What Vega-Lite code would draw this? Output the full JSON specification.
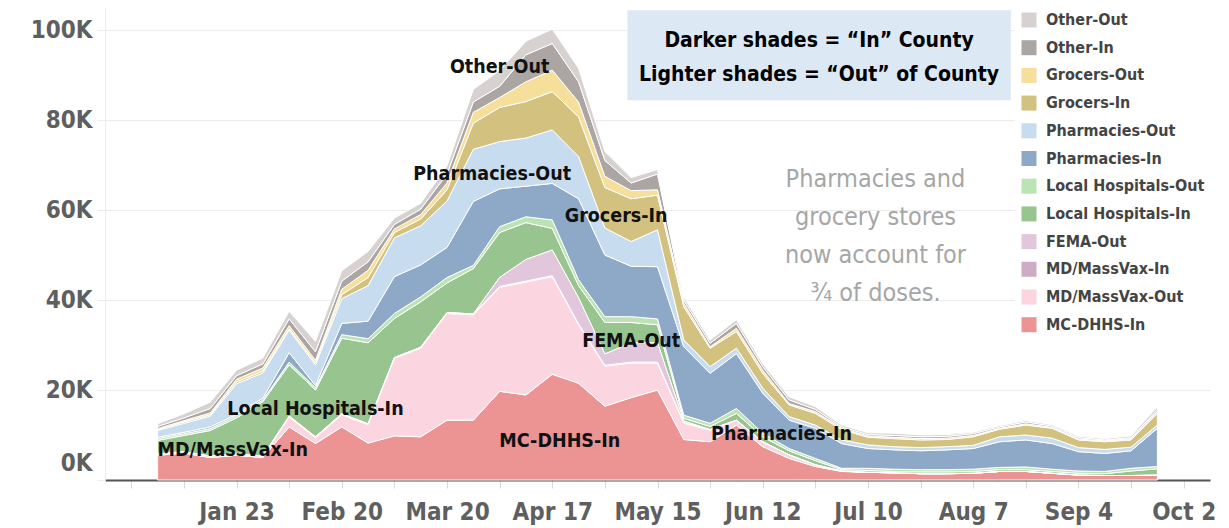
{
  "$schema": "https://vega.github.io/schema/vega-lite/v6.json",
  "width": 1105,
  "height": 472,
  "autosize": {"type": "none"},
  "padding": {"left": 105, "top": 8, "right": 19, "bottom": 48},
  "background": "white",
  "config": {"view": {"stroke": null}, "font": "DejaVu Sans Condensed"},
  "layer": [
    {
      "data": {"values": [
        {"week":"2021-01-02","MC-DHHS-In":5500,"MD/MassVax-Out":0,"MD/MassVax-In":300,"FEMA-Out":null,"Local Hospitals-In":3000,"Local Hospitals-Out":400,"Pharmacies-In":300,"Pharmacies-Out":1500,"Grocers-In":200,"Grocers-Out":200,"Other-In":500,"Other-Out":600},
        {"week":"2021-01-09","MC-DHHS-In":6000,"MD/MassVax-Out":0,"MD/MassVax-In":300,"FEMA-Out":null,"Local Hospitals-In":3600,"Local Hospitals-Out":400,"Pharmacies-In":300,"Pharmacies-Out":2000,"Grocers-In":300,"Grocers-Out":300,"Other-In":600,"Other-Out":900},
        {"week":"2021-01-16","MC-DHHS-In":5000,"MD/MassVax-Out":0,"MD/MassVax-In":300,"FEMA-Out":null,"Local Hospitals-In":5700,"Local Hospitals-Out":400,"Pharmacies-In":400,"Pharmacies-Out":2400,"Grocers-In":300,"Grocers-Out":400,"Other-In":1000,"Other-Out":1400},
        {"week":"2021-01-23","MC-DHHS-In":5500,"MD/MassVax-Out":0,"MD/MassVax-In":300,"FEMA-Out":null,"Local Hospitals-In":8000,"Local Hospitals-Out":500,"Pharmacies-In":300,"Pharmacies-Out":6800,"Grocers-In":400,"Grocers-Out":600,"Other-In":800,"Other-Out":1200},
        {"week":"2021-01-30","MC-DHHS-In":5000,"MD/MassVax-Out":0,"MD/MassVax-In":300,"FEMA-Out":null,"Local Hospitals-In":12100,"Local Hospitals-Out":400,"Pharmacies-In":400,"Pharmacies-Out":5600,"Grocers-In":400,"Grocers-Out":700,"Other-In":900,"Other-Out":1300},
        {"week":"2021-02-06","MC-DHHS-In":11800,"MD/MassVax-Out":2200,"MD/MassVax-In":200,"FEMA-Out":null,"Local Hospitals-In":11400,"Local Hospitals-Out":600,"Pharmacies-In":2100,"Pharmacies-Out":5000,"Grocers-In":300,"Grocers-Out":700,"Other-In":1500,"Other-Out":1700},
        {"week":"2021-02-13","MC-DHHS-In":8100,"MD/MassVax-Out":1300,"MD/MassVax-In":200,"FEMA-Out":null,"Local Hospitals-In":10400,"Local Hospitals-Out":500,"Pharmacies-In":500,"Pharmacies-Out":4600,"Grocers-In":400,"Grocers-Out":600,"Other-In":1900,"Other-Out":2300},
        {"week":"2021-02-20","MC-DHHS-In":11800,"MD/MassVax-Out":2700,"MD/MassVax-In":200,"FEMA-Out":null,"Local Hospitals-In":16800,"Local Hospitals-Out":800,"Pharmacies-In":2500,"Pharmacies-Out":5500,"Grocers-In":900,"Grocers-Out":1200,"Other-In":1800,"Other-Out":2300},
        {"week":"2021-02-27","MC-DHHS-In":8200,"MD/MassVax-Out":4100,"MD/MassVax-In":200,"FEMA-Out":null,"Local Hospitals-In":18000,"Local Hospitals-Out":900,"Pharmacies-In":3900,"Pharmacies-Out":7900,"Grocers-In":1800,"Grocers-Out":1600,"Other-In":1900,"Other-Out":2300},
        {"week":"2021-03-06","MC-DHHS-In":9800,"MD/MassVax-Out":17200,"MD/MassVax-In":200,"FEMA-Out":null,"Local Hospitals-In":8700,"Local Hospitals-Out":1100,"Pharmacies-In":8200,"Pharmacies-Out":8600,"Grocers-In":1200,"Grocers-Out":800,"Other-In":1000,"Other-Out":1400},
        {"week":"2021-03-13","MC-DHHS-In":9600,"MD/MassVax-Out":19700,"MD/MassVax-In":200,"FEMA-Out":null,"Local Hospitals-In":10100,"Local Hospitals-Out":1100,"Pharmacies-In":7100,"Pharmacies-Out":8700,"Grocers-In":1500,"Grocers-Out":1000,"Other-In":1200,"Other-Out":1300},
        {"week":"2021-03-20","MC-DHHS-In":13300,"MD/MassVax-Out":23700,"MD/MassVax-In":200,"FEMA-Out":null,"Local Hospitals-In":6600,"Local Hospitals-Out":1200,"Pharmacies-In":6700,"Pharmacies-Out":10300,"Grocers-In":2500,"Grocers-Out":1500,"Other-In":2000,"Other-Out":1800},
        {"week":"2021-03-27","MC-DHHS-In":13300,"MD/MassVax-Out":23400,"MD/MassVax-In":200,"FEMA-Out":null,"Local Hospitals-In":10100,"Local Hospitals-Out":700,"Pharmacies-In":14200,"Pharmacies-Out":11600,"Grocers-In":5800,"Grocers-Out":2400,"Other-In":2300,"Other-Out":2800},
        {"week":"2021-04-03","MC-DHHS-In":19700,"MD/MassVax-Out":23100,"MD/MassVax-In":200,"FEMA-Out":2000,"Local Hospitals-In":10000,"Local Hospitals-Out":1300,"Pharmacies-In":8400,"Pharmacies-Out":10500,"Grocers-In":7600,"Grocers-Out":2200,"Other-In":2500,"Other-Out":3500},
        {"week":"2021-04-10","MC-DHHS-In":18900,"MD/MassVax-Out":25100,"MD/MassVax-In":200,"FEMA-Out":4800,"Local Hospitals-In":8200,"Local Hospitals-Out":1300,"Pharmacies-In":6800,"Pharmacies-Out":10700,"Grocers-In":8100,"Grocers-Out":4400,"Other-In":6000,"Other-Out":3000},
        {"week":"2021-04-17","MC-DHHS-In":23500,"MD/MassVax-Out":21700,"MD/MassVax-In":200,"FEMA-Out":5700,"Local Hospitals-In":4800,"Local Hospitals-Out":1900,"Pharmacies-In":8100,"Pharmacies-Out":11900,"Grocers-In":8500,"Grocers-Out":4800,"Other-In":5900,"Other-Out":3200},
        {"week":"2021-04-24","MC-DHHS-In":21500,"MD/MassVax-Out":13000,"MD/MassVax-In":200,"FEMA-Out":5800,"Local Hospitals-In":2700,"Local Hospitals-Out":1300,"Pharmacies-In":18000,"Pharmacies-Out":9400,"Grocers-In":8800,"Grocers-Out":3300,"Other-In":4500,"Other-Out":3000},
        {"week":"2021-05-01","MC-DHHS-In":16400,"MD/MassVax-Out":8900,"MD/MassVax-In":200,"FEMA-Out":2500,"Local Hospitals-In":7000,"Local Hospitals-Out":1300,"Pharmacies-In":13700,"Pharmacies-Out":6000,"Grocers-In":9000,"Grocers-Out":2500,"Other-In":3500,"Other-Out":2000},
        {"week":"2021-05-08","MC-DHHS-In":18300,"MD/MassVax-Out":7700,"MD/MassVax-In":200,"FEMA-Out":4300,"Local Hospitals-In":4500,"Local Hospitals-Out":1300,"Pharmacies-In":11200,"Pharmacies-Out":5500,"Grocers-In":9500,"Grocers-Out":1800,"Other-In":1700,"Other-Out":1200},
        {"week":"2021-05-15","MC-DHHS-In":20000,"MD/MassVax-Out":6000,"MD/MassVax-In":200,"FEMA-Out":4300,"Local Hospitals-In":4000,"Local Hospitals-Out":1300,"Pharmacies-In":11600,"Pharmacies-Out":8200,"Grocers-In":7700,"Grocers-Out":1200,"Other-In":3500,"Other-Out":1000},
        {"week":"2021-05-22","MC-DHHS-In":9000,"MD/MassVax-Out":3600,"MD/MassVax-In":200,"FEMA-Out":300,"Local Hospitals-In":600,"Local Hospitals-Out":700,"Pharmacies-In":15200,"Pharmacies-Out":1500,"Grocers-In":7400,"Grocers-Out":800,"Other-In":700,"Other-Out":700},
        {"week":"2021-05-29","MC-DHHS-In":8500,"MD/MassVax-Out":2600,"MD/MassVax-In":100,"FEMA-Out":0,"Local Hospitals-In":700,"Local Hospitals-Out":700,"Pharmacies-In":11100,"Pharmacies-Out":1500,"Grocers-In":4100,"Grocers-Out":300,"Other-In":800,"Other-Out":700},
        {"week":"2021-06-05","MC-DHHS-In":12200,"MD/MassVax-Out":1100,"MD/MassVax-In":0,"FEMA-Out":0,"Local Hospitals-In":1500,"Local Hospitals-Out":1100,"Pharmacies-In":12200,"Pharmacies-Out":1200,"Grocers-In":3700,"Grocers-Out":700,"Other-In":1100,"Other-Out":800},
        {"week":"2021-06-12","MC-DHHS-In":7400,"MD/MassVax-Out":1100,"MD/MassVax-In":0,"FEMA-Out":0,"Local Hospitals-In":1100,"Local Hospitals-Out":800,"Pharmacies-In":8900,"Pharmacies-Out":1100,"Grocers-In":3300,"Grocers-Out":700,"Other-In":800,"Other-Out":700},
        {"week":"2021-06-19","MC-DHHS-In":4800,"MD/MassVax-Out":800,"MD/MassVax-In":0,"FEMA-Out":0,"Local Hospitals-In":900,"Local Hospitals-Out":500,"Pharmacies-In":6300,"Pharmacies-Out":800,"Grocers-In":2600,"Grocers-Out":300,"Other-In":800,"Other-Out":700},
        {"week":"2021-06-26","MC-DHHS-In":3000,"MD/MassVax-Out":400,"MD/MassVax-In":0,"FEMA-Out":0,"Local Hospitals-In":900,"Local Hospitals-Out":500,"Pharmacies-In":6700,"Pharmacies-Out":700,"Grocers-In":2600,"Grocers-Out":400,"Other-In":500,"Other-Out":600},
        {"week":"2021-07-03","MC-DHHS-In":1900,"MD/MassVax-Out":100,"MD/MassVax-In":0,"FEMA-Out":0,"Local Hospitals-In":300,"Local Hospitals-Out":300,"Pharmacies-In":5500,"Pharmacies-Out":800,"Grocers-In":2300,"Grocers-Out":300,"Other-In":300,"Other-Out":400},
        {"week":"2021-07-10","MC-DHHS-In":1700,"MD/MassVax-Out":0,"MD/MassVax-In":0,"FEMA-Out":0,"Local Hospitals-In":400,"Local Hospitals-Out":500,"Pharmacies-In":4400,"Pharmacies-Out":800,"Grocers-In":1700,"Grocers-Out":300,"Other-In":300,"Other-Out":400},
        {"week":"2021-07-17","MC-DHHS-In":1600,"MD/MassVax-Out":0,"MD/MassVax-In":0,"FEMA-Out":0,"Local Hospitals-In":300,"Local Hospitals-Out":500,"Pharmacies-In":4300,"Pharmacies-Out":700,"Grocers-In":1800,"Grocers-Out":300,"Other-In":400,"Other-Out":500},
        {"week":"2021-07-24","MC-DHHS-In":1400,"MD/MassVax-Out":0,"MD/MassVax-In":0,"FEMA-Out":0,"Local Hospitals-In":400,"Local Hospitals-Out":500,"Pharmacies-In":4200,"Pharmacies-Out":700,"Grocers-In":1700,"Grocers-Out":300,"Other-In":400,"Other-Out":400},
        {"week":"2021-07-31","MC-DHHS-In":1400,"MD/MassVax-Out":0,"MD/MassVax-In":0,"FEMA-Out":0,"Local Hospitals-In":400,"Local Hospitals-Out":500,"Pharmacies-In":4400,"Pharmacies-Out":700,"Grocers-In":1600,"Grocers-Out":300,"Other-In":400,"Other-Out":400},
        {"week":"2021-08-07","MC-DHHS-In":1500,"MD/MassVax-Out":0,"MD/MassVax-In":0,"FEMA-Out":0,"Local Hospitals-In":400,"Local Hospitals-Out":500,"Pharmacies-In":4600,"Pharmacies-Out":700,"Grocers-In":1900,"Grocers-Out":300,"Other-In":400,"Other-Out":300},
        {"week":"2021-08-14","MC-DHHS-In":1900,"MD/MassVax-Out":0,"MD/MassVax-In":0,"FEMA-Out":0,"Local Hospitals-In":400,"Local Hospitals-Out":500,"Pharmacies-In":5700,"Pharmacies-Out":1100,"Grocers-In":1700,"Grocers-Out":200,"Other-In":300,"Other-Out":300},
        {"week":"2021-08-21","MC-DHHS-In":1900,"MD/MassVax-Out":0,"MD/MassVax-In":0,"FEMA-Out":0,"Local Hospitals-In":400,"Local Hospitals-Out":600,"Pharmacies-In":6000,"Pharmacies-Out":1100,"Grocers-In":2200,"Grocers-Out":300,"Other-In":400,"Other-Out":300},
        {"week":"2021-08-28","MC-DHHS-In":1500,"MD/MassVax-Out":0,"MD/MassVax-In":0,"FEMA-Out":0,"Local Hospitals-In":400,"Local Hospitals-Out":500,"Pharmacies-In":5700,"Pharmacies-Out":1200,"Grocers-In":2200,"Grocers-Out":200,"Other-In":300,"Other-Out":300},
        {"week":"2021-09-04","MC-DHHS-In":1100,"MD/MassVax-Out":0,"MD/MassVax-In":0,"FEMA-Out":0,"Local Hospitals-In":400,"Local Hospitals-Out":500,"Pharmacies-In":4300,"Pharmacies-Out":900,"Grocers-In":1700,"Grocers-Out":200,"Other-In":300,"Other-Out":300},
        {"week":"2021-09-11","MC-DHHS-In":1000,"MD/MassVax-Out":0,"MD/MassVax-In":0,"FEMA-Out":0,"Local Hospitals-In":400,"Local Hospitals-Out":500,"Pharmacies-In":4000,"Pharmacies-Out":900,"Grocers-In":1700,"Grocers-Out":200,"Other-In":200,"Other-Out":300},
        {"week":"2021-09-18","MC-DHHS-In":1000,"MD/MassVax-Out":0,"MD/MassVax-In":0,"FEMA-Out":0,"Local Hospitals-In":1000,"Local Hospitals-Out":600,"Pharmacies-In":3900,"Pharmacies-Out":800,"Grocers-In":1600,"Grocers-Out":300,"Other-In":200,"Other-Out":400},
        {"week":"2021-09-25","MC-DHHS-In":1100,"MD/MassVax-Out":0,"MD/MassVax-In":0,"FEMA-Out":0,"Local Hospitals-In":1400,"Local Hospitals-Out":500,"Pharmacies-In":8500,"Pharmacies-Out":700,"Grocers-In":2600,"Grocers-Out":400,"Other-In":400,"Other-Out":700}
      ]},
      "transform": [
        {"fold": ["MC-DHHS-In","MD/MassVax-Out","MD/MassVax-In","FEMA-Out","Local Hospitals-In","Local Hospitals-Out","Pharmacies-In","Pharmacies-Out","Grocers-In","Grocers-Out","Other-In","Other-Out"], "as": ["series","doses"]},
        {"filter": "isValid(datum.doses)"},
        {"calculate": "indexof(['MC-DHHS-In','MD/MassVax-Out','MD/MassVax-In','FEMA-Out','Local Hospitals-In','Local Hospitals-Out','Pharmacies-In','Pharmacies-Out','Grocers-In','Grocers-Out','Other-In','Other-Out'], datum.series)", "as": "stackOrder"}
      ],
      "mark": {"type": "area", "stroke": "white", "strokeWidth": 1, "opacity": 1},
      "encoding": {
        "x": {
          "field": "week", "type": "temporal", "title": null,
          "scale": {"type": "utc", "domain": [1608336000000, 1633737600000]},
          "axis": {
            "values": [1608940800000,1610150400000,1611360000000,1612569600000,1613779200000,1614988800000,1616198400000,1617408000000,1618617600000,1619827200000,1621036800000,1622246400000,1623456000000,1624665600000,1625875200000,1627084800000,1628294400000,1629504000000,1630713600000,1631923200000,1633132800000],
            "labelExpr": "(datum.value >= 1611360000000 && round((datum.value - 1611360000000) / 86400000) % 28 == 0) ? utcFormat(datum.value, '%b %-d') : ''",
            "labelFont": "DejaVu Sans Condensed", "labelFontSize": 24, "labelFontWeight": "bold", "labelColor": "#5f5f5f",
            "labelPadding": 12, "tickSize": 8, "tickColor": "#d9d9d9", "tickWidth": 1,
            "domainColor": "#555555", "domainWidth": 2, "grid": false,
            "labelFlush": false, "labelOverlap": false, "labelBound": false
          }
        },
        "y": {
          "field": "doses", "type": "quantitative", "stack": "zero", "title": null,
          "scale": {"domain": [0, 104889], "nice": false},
          "axis": {
            "values": [0, 20000, 40000, 60000, 80000, 100000],
            "labelExpr": "(datum.value / 1000) + 'K'",
            "labelFont": "DejaVu Sans Condensed", "labelFontSize": 24, "labelFontWeight": "bold", "labelColor": "#5f5f5f",
            "labelPadding": 5, "tickSize": 8, "tickColor": "#ececec",
            "domainColor": "#ececec", "grid": true, "gridColor": "#ececec", "gridWidth": 1,
            "labelOffset": {"condition": {"test": "datum.value === 0", "value": -17}, "value": 0}
          }
        },
        "color": {
          "field": "series", "type": "nominal",
          "scale": {
            "domain": ["Other-Out","Other-In","Grocers-Out","Grocers-In","Pharmacies-Out","Pharmacies-In","Local Hospitals-Out","Local Hospitals-In","FEMA-Out","MD/MassVax-In","MD/MassVax-Out","MC-DHHS-In"],
            "range": ["#d7d2cf","#aba6a3","#f5df9a","#d3c17f","#c7dcee","#8ea9c8","#bce3b3","#98c48f","#e2c6dc","#cfabc5","#fbd5e0","#ec9393"]
          },
          "legend": {
            "title": null, "orient": "none", "legendX": 910, "legendY": -2, "padding": 6,
            "fillColor": "white", "symbolType": "square", "symbolSize": 225, "symbolStrokeWidth": 0,
            "labelFont": "DejaVu Sans Condensed", "labelFontSize": 16, "labelFontWeight": "bold", "labelColor": "#444444",
            "labelOffset": 9, "rowPadding": 11.7, "labelLimit": 300
          }
        },
        "order": {"field": "stackOrder", "type": "quantitative"}
      }
    },
    {
      "data": {"values": [{"x1": "2021-05-07", "x2": "2021-08-17", "y1": 104400, "y2": 84400}]},
      "mark": {"type": "rect", "color": "#dce8f4"},
      "encoding": {
        "x": {"field": "x1", "type": "temporal", "title": null},
        "x2": {"field": "x2"},
        "y": {"field": "y1", "type": "quantitative", "title": null},
        "y2": {"field": "y2"}
      }
    },
    {
      "data": {"values": [{"t": "Darker shades = “In” County\nLighter shades = “Out” of County", "d": "2021-06-27", "v": 97600}]},
      "mark": {"type": "text", "lineBreak": "\n", "font": "DejaVu Sans Condensed", "fontWeight": "bold", "fontSize": 21, "lineHeight": 34, "color": "#000000", "align": "center", "baseline": "middle"},
      "encoding": {
        "x": {"field": "d", "type": "temporal", "title": null},
        "y": {"field": "v", "type": "quantitative", "title": null},
        "text": {"field": "t"}
      }
    },
    {
      "data": {"values": [{"t": "Pharmacies and\ngrocery stores\nnow account for\n¾ of doses.", "d": "2021-07-12", "v": 66900}]},
      "mark": {"type": "text", "lineBreak": "\n", "font": "DejaVu Sans Condensed", "fontSize": 25, "lineHeight": 38, "color": "#a6a6a6", "align": "center", "baseline": "middle"},
      "encoding": {
        "x": {"field": "d", "type": "temporal", "title": null},
        "y": {"field": "v", "type": "quantitative", "title": null},
        "text": {"field": "t"}
      }
    },
    {
      "data": {"values": [
        {"label": "Other-Out", "d": "2021-04-03", "v": 91800},
        {"label": "Pharmacies-Out", "d": "2021-04-01", "v": 68000},
        {"label": "Grocers-In", "d": "2021-05-04", "v": 58700},
        {"label": "FEMA-Out", "d": "2021-05-08", "v": 30900},
        {"label": "MC-DHHS-In", "d": "2021-04-19", "v": 8700},
        {"label": "Local Hospitals-In", "d": "2021-02-13", "v": 15800},
        {"label": "MD/MassVax-In", "d": "2021-01-22", "v": 6700},
        {"label": "Pharmacies-In", "d": "2021-06-17", "v": 10200}
      ]},
      "mark": {"type": "text", "font": "DejaVu Sans Condensed", "fontWeight": "bold", "fontSize": 19.5, "color": "#111111", "align": "center", "baseline": "middle"},
      "encoding": {
        "x": {"field": "d", "type": "temporal", "title": null},
        "y": {"field": "v", "type": "quantitative", "title": null},
        "text": {"field": "label"}
      }
    }
  ]
}
